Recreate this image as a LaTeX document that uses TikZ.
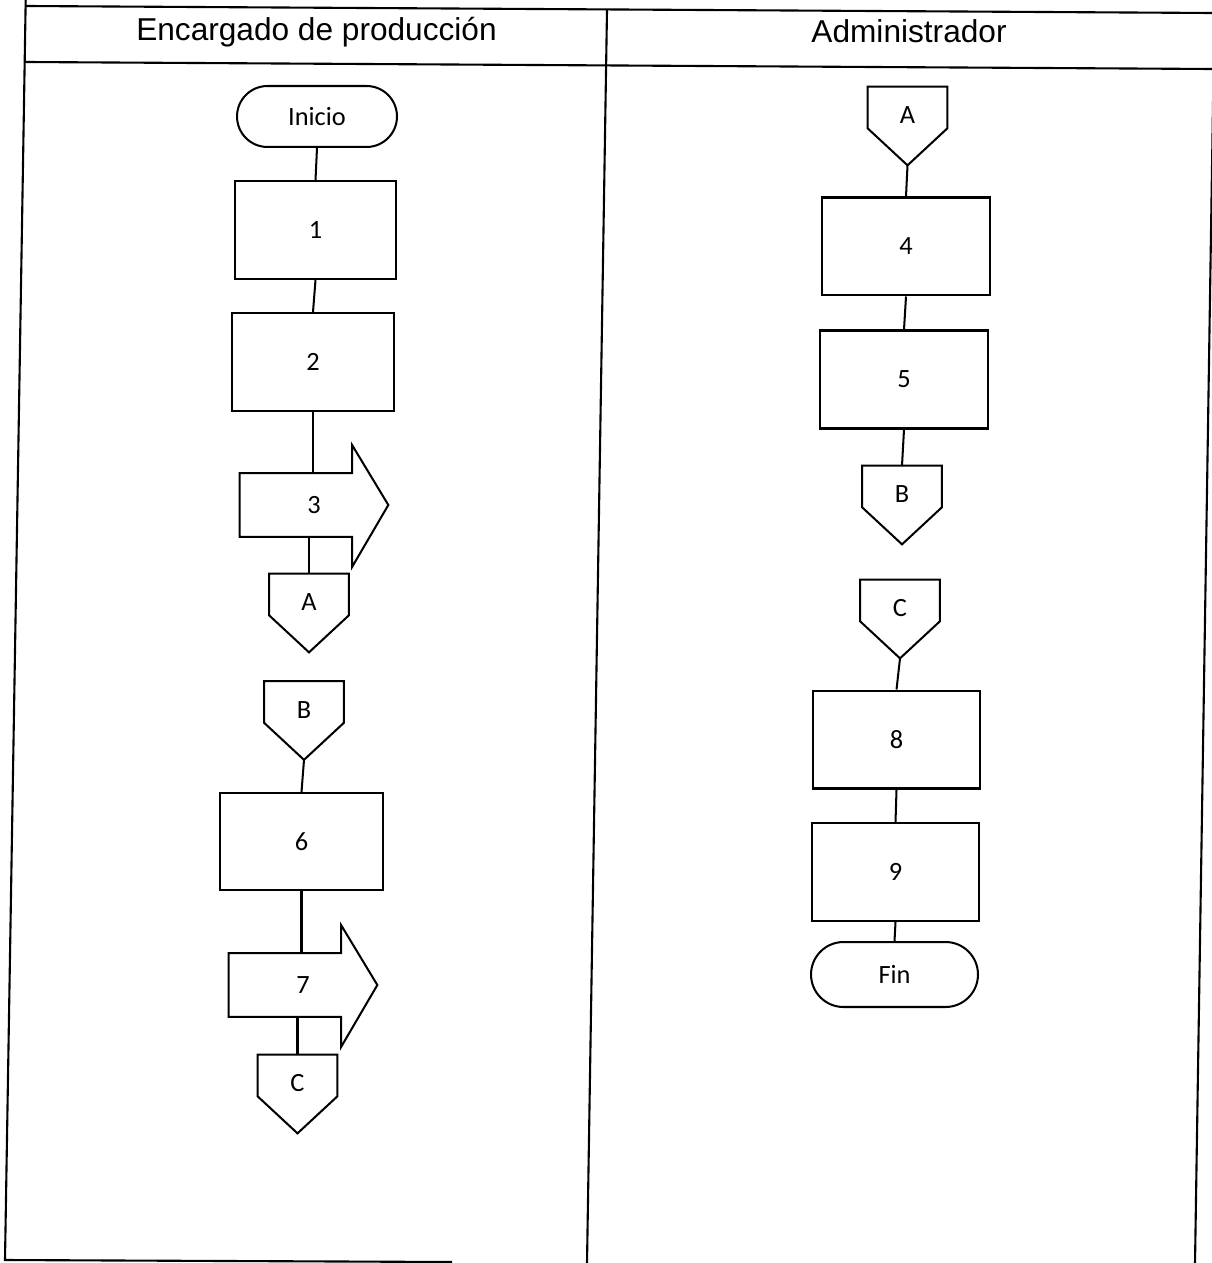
\documentclass[tikz,border=0pt]{standalone}
\usepackage{fontspec}
\setmainfont{Carlito}
\newfontfamily\hdrfont{Liberation Sans}
\usetikzlibrary{calc,shapes.misc}

\newcommand{\offpg}[3]{%
  \node[opbody] (#1) at (#2) {#3};
  \coordinate (#1-tip) at ($(#1.south)+(0,37)$);
  \draw[shp] (#1.north west) -- (#1.north east) -- (#1.south east) -- (#1-tip) -- (#1.south west) -- cycle;}

\newcommand{\arrblk}[3]{%
  \node[arrbody] (#1) at (#2) {#3};
  \draw[shp] (#1.north west) -- ($(#1.north west)+(112.5,0)$) -- ($(#1.north west)+(112.5,-28)$) -- (#1.east)
    -- ($(#1.south west)+(112.5,30)$) -- ($(#1.south west)+(112.5,0)$) -- (#1.south west) -- cycle;}

\begin{document}
\begin{tikzpicture}[x=0.02cm,y=-0.02cm,
  lbl/.style={font=\fontsize{15}{18}\selectfont},
  shp/.style={draw=black, line width=1.15pt, line join=miter},
  procbox/.style={draw=black, line width=1.15pt, rectangle, inner sep=0pt, minimum height=1.96cm, lbl},
  term/.style={draw=black, line width=1.15pt, rounded rectangle, inner sep=0pt, lbl},
  opbody/.style={rectangle, inner sep=0pt, minimum width=1.58cm, minimum height=0.82cm, text height=18.6pt, text depth=0pt, lbl},
  arrbody/.style={rectangle, inner sep=0pt, minimum width=2.96cm, minimum height=1.26cm, lbl},
  conn/.style={draw=black, line width=1.15pt},
  tbl/.style={draw=black, line width=1.2pt},
  hdr/.style={anchor=base, font=\hdrfont\fontsize{18}{21}\selectfont}]
\useasboundingbox (0,0) rectangle (1212,1263);

% table
\draw[tbl] (25.7,0) -- (5,1260) -- (452,1262);
\draw[tbl] (25,6) -- (1212,13);
\draw[tbl] (25,62) -- (1212,69);
\draw[tbl] (607,10) -- (587,1263);
\draw[tbl] (1214.6,0) -- (1195,1263);

\node[hdr] (h1) at (316.5,41) {Encargado de producción};
\node[hdr] (h2) at (909,43) {Administrador};

% left lane
\node[term, minimum width=3.2cm, minimum height=1.22cm] (ini) at (317,116.5) {Inicio};
\node[procbox, minimum width=3.22cm] (b1) at (315.5,230) {1};
\node[procbox, minimum width=3.24cm] (b2) at (313,362) {2};
\arrblk{a3}{314,505}{3}
\offpg{Al}{309,594.5}{A}
\offpg{Bl}{304,702}{B}
\node[procbox, minimum width=3.26cm, minimum height=1.94cm] (b6) at (301.5,841.5) {6};
\arrblk{a7}{303,985}{7}
\offpg{Cl}{297.5,1075.5}{C}

% right lane
\offpg{Ar}{907.5,107.5}{A}
\node[procbox, minimum width=3.36cm] (b4) at (906,246.5) {4};
\node[procbox, minimum width=3.36cm] (b5) at (904,379.5) {5};
\offpg{Br}{902,486.5}{B}
\offpg{Cr}{900,600.5}{C}
\node[procbox, minimum width=3.34cm] (b8) at (896.5,739.5) {8};
\node[procbox, minimum width=3.34cm] (b9) at (895.5,872) {9};
\node[term, minimum width=3.34cm, minimum height=1.3cm] (fin) at (894.5,974.5) {Fin};

% connectors left
\draw[conn] (ini.south) -- (b1.north);
\draw[conn] (b1.south) -- (b2.north);
\draw[conn] (b2.south) -- (b2.south |- a3.north);
\draw[conn] (Al.north |- a3.south) -- (Al.north);
\draw[conn] (Bl-tip) -- (b6.north);
\draw[conn] (b6.south) -- (b6.south |- a7.north);
\draw[conn] (Cl.north |- a7.south) -- (Cl.north);

% connectors right
\draw[conn] (Ar-tip) -- (b4.north);
\draw[conn] (b4.south) -- (b5.north);
\draw[conn] (b5.south) -- (Br.north);
\draw[conn] (Cr-tip) -- (b8.north);
\draw[conn] (b8.south) -- (b9.north);
\draw[conn] (b9.south) -- (fin.north);
\end{tikzpicture}
\end{document}
